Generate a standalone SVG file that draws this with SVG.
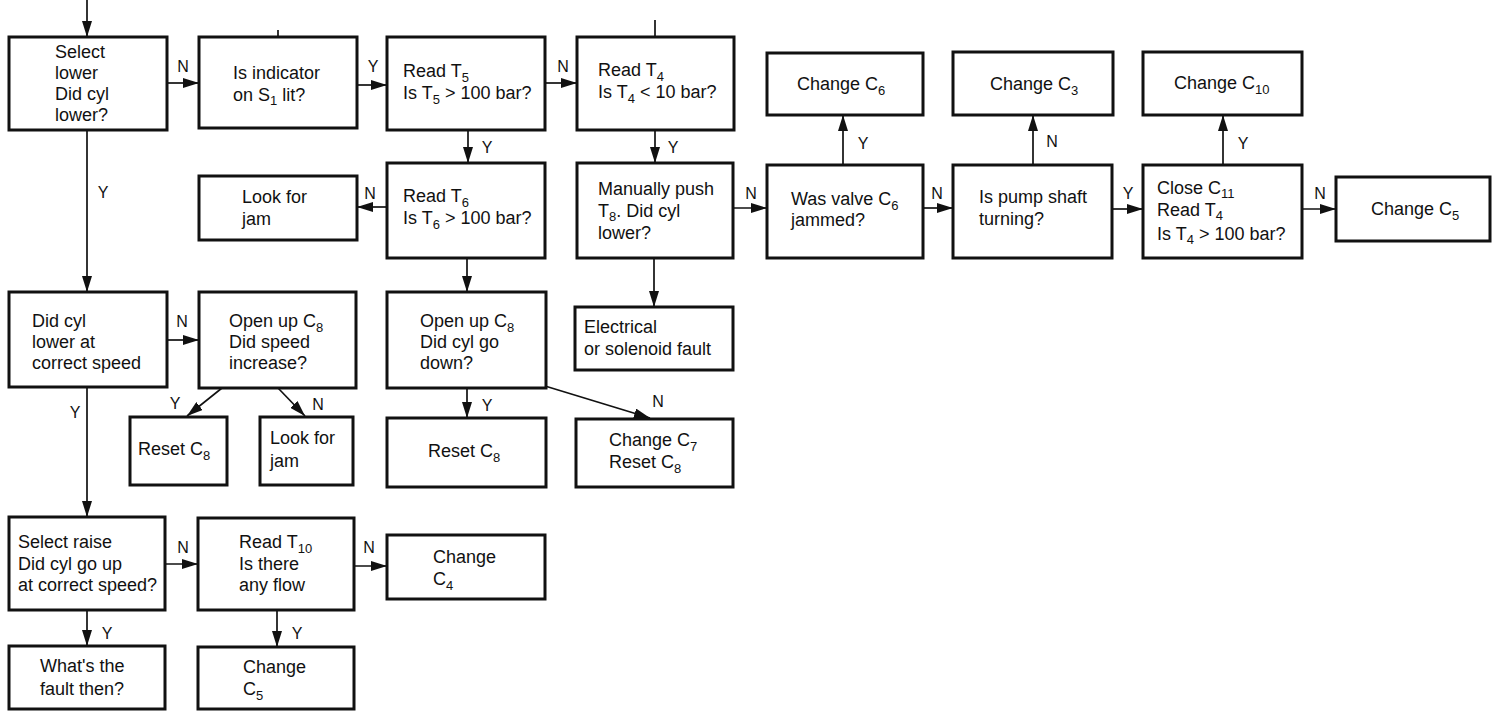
<svg xmlns="http://www.w3.org/2000/svg" width="1492" height="713" viewBox="0 0 1492 713">
<style>
.box{fill:#fff;stroke:#111;stroke-width:3}
.t{font-family:"Liberation Sans",Arial,sans-serif;font-size:18px;fill:#111}
.s{font-size:13px}
.lbl{font-family:"Liberation Sans",Arial,sans-serif;font-size:16px;fill:#111;text-anchor:middle}
.c{stroke:#111;stroke-width:1.7;fill:none}
.a{marker-end:url(#ah)}
</style>
<defs>
<marker id="ah" markerUnits="userSpaceOnUse" markerWidth="16" markerHeight="10" refX="16" refY="5" orient="auto">
<path d="M0,0 L16,5 L0,10 z" fill="#111"/>
</marker>
</defs>
<rect width="1492" height="713" fill="#fff"/>
<g id="connectors">
<line class="c a" x1="87" y1="0" x2="87" y2="37"/>
<line class="c" x1="278" y1="30" x2="278" y2="37"/>
<line class="c" x1="655" y1="20" x2="655" y2="37"/>
<line class="c a" x1="167" y1="83" x2="199" y2="83"/>
<line class="c a" x1="357" y1="85" x2="387" y2="85"/>
<line class="c a" x1="545" y1="83" x2="577" y2="83"/>
<line class="c a" x1="468" y1="130" x2="468" y2="163"/>
<line class="c a" x1="655" y1="130" x2="655" y2="163"/>
<line class="c a" x1="387" y1="207" x2="357" y2="207"/>
<line class="c a" x1="733" y1="208" x2="767" y2="208"/>
<line class="c a" x1="843" y1="165" x2="843" y2="115"/>
<line class="c a" x1="923" y1="208" x2="953" y2="208"/>
<line class="c a" x1="1033" y1="165" x2="1033" y2="115"/>
<line class="c a" x1="1112" y1="209" x2="1143" y2="209"/>
<line class="c a" x1="1223" y1="165" x2="1223" y2="115"/>
<line class="c a" x1="1302" y1="209" x2="1336" y2="209"/>
<line class="c a" x1="87" y1="130" x2="87" y2="292"/>
<line class="c a" x1="467" y1="258" x2="467" y2="292"/>
<line class="c a" x1="654" y1="258" x2="654" y2="307"/>
<line class="c a" x1="167" y1="340" x2="199" y2="340"/>
<line class="c a" x1="87" y1="387" x2="87" y2="517"/>
<line class="c a" x1="222" y1="388" x2="187" y2="416"/>
<line class="c a" x1="278" y1="388" x2="305" y2="416"/>
<line class="c a" x1="467" y1="388" x2="467" y2="418"/>
<line class="c a" x1="545" y1="386" x2="650" y2="418"/>
<line class="c a" x1="165" y1="564" x2="198" y2="564"/>
<line class="c a" x1="354" y1="566" x2="387" y2="566"/>
<line class="c a" x1="87" y1="610" x2="87" y2="646"/>
<line class="c a" x1="277" y1="610" x2="277" y2="647"/>
<text class="lbl" x="183" y="72">N</text>
<text class="lbl" x="373" y="72">Y</text>
<text class="lbl" x="563" y="72">N</text>
<text class="lbl" x="487" y="153">Y</text>
<text class="lbl" x="673" y="153">Y</text>
<text class="lbl" x="370" y="199">N</text>
<text class="lbl" x="751" y="199">N</text>
<text class="lbl" x="863" y="149">Y</text>
<text class="lbl" x="937" y="199">N</text>
<text class="lbl" x="1052" y="147">N</text>
<text class="lbl" x="1128" y="199">Y</text>
<text class="lbl" x="1243" y="149">Y</text>
<text class="lbl" x="1320" y="199">N</text>
<text class="lbl" x="103" y="198">Y</text>
<text class="lbl" x="182" y="327">N</text>
<text class="lbl" x="75" y="418">Y</text>
<text class="lbl" x="175" y="409">Y</text>
<text class="lbl" x="318" y="410">N</text>
<text class="lbl" x="487" y="411">Y</text>
<text class="lbl" x="658" y="407">N</text>
<text class="lbl" x="183" y="553">N</text>
<text class="lbl" x="369" y="553">N</text>
<text class="lbl" x="107" y="639">Y</text>
<text class="lbl" x="297" y="639">Y</text>
</g>
<g id="n-select-lower">
<rect class="box" x="9" y="37" width="158" height="93"/>
<text class="t" x="55" y="58">Select</text>
<text class="t" x="55" y="79">lower</text>
<text class="t" x="55" y="100">Did cyl</text>
<text class="t" x="55" y="121">lower?</text>
</g>
<g id="n-indicator">
<rect class="box" x="199" y="37" width="158" height="91"/>
<text class="t" x="233" y="79">Is indicator</text>
<text class="t" x="233" y="101">on S<tspan class="s" dy="4">1</tspan><tspan dy="-4"> lit?</tspan></text>
</g>
<g id="n-read-t5">
<rect class="box" x="387" y="37" width="158" height="93"/>
<text class="t" x="403" y="77">Read T<tspan class="s" dy="5">5</tspan></text>
<text class="t" x="403" y="99">Is T<tspan class="s" dy="5">5</tspan><tspan dy="-5"> &gt; 100 bar?</tspan></text>
</g>
<g id="n-read-t4">
<rect class="box" x="577" y="37" width="157" height="93"/>
<text class="t" x="598" y="76">Read T<tspan class="s" dy="5">4</tspan></text>
<text class="t" x="598" y="98">Is T<tspan class="s" dy="5">4</tspan><tspan dy="-5"> &lt; 10 bar?</tspan></text>
</g>
<g id="n-change-c6">
<rect class="box" x="767" y="53" width="156" height="62"/>
<text class="t" x="797" y="90">Change C<tspan class="s" dy="5">6</tspan></text>
</g>
<g id="n-change-c3">
<rect class="box" x="953" y="52" width="160" height="63"/>
<text class="t" x="990" y="90">Change C<tspan class="s" dy="5">3</tspan></text>
</g>
<g id="n-change-c10">
<rect class="box" x="1143" y="52" width="159" height="63"/>
<text class="t" x="1174" y="89">Change C<tspan class="s" dy="5">10</tspan></text>
</g>
<g id="n-look-jam-1">
<rect class="box" x="199" y="176" width="158" height="64"/>
<text class="t" x="242" y="203">Look for</text>
<text class="t" x="242" y="225">jam</text>
</g>
<g id="n-read-t6">
<rect class="box" x="387" y="163" width="158" height="95"/>
<text class="t" x="403" y="202">Read T<tspan class="s" dy="5">6</tspan></text>
<text class="t" x="403" y="224">Is T<tspan class="s" dy="5">6</tspan><tspan dy="-5"> &gt; 100 bar?</tspan></text>
</g>
<g id="n-manual-push">
<rect class="box" x="577" y="163" width="156" height="95"/>
<text class="t" x="598" y="195">Manually push</text>
<text class="t" x="598" y="217">T<tspan class="s" dy="4">8</tspan><tspan dy="-4">.  Did cyl</tspan></text>
<text class="t" x="598" y="239">lower?</text>
</g>
<g id="n-was-valve">
<rect class="box" x="767" y="165" width="156" height="93"/>
<text class="t" x="791" y="205">Was valve C<tspan class="s" dy="5">6</tspan></text>
<text class="t" x="791" y="226">jammed?</text>
</g>
<g id="n-pump-shaft">
<rect class="box" x="953" y="165" width="159" height="93"/>
<text class="t" x="979" y="203">Is pump shaft</text>
<text class="t" x="979" y="225">turning?</text>
</g>
<g id="n-close-c11">
<rect class="box" x="1143" y="165" width="159" height="93"/>
<text class="t" x="1157" y="194">Close C<tspan class="s" dy="4">11</tspan></text>
<text class="t" x="1157" y="216">Read T<tspan class="s" dy="4">4</tspan></text>
<text class="t" x="1157" y="240">Is T<tspan class="s" dy="4">4</tspan><tspan dy="-4"> &gt; 100 bar?</tspan></text>
</g>
<g id="n-change-c5-right">
<rect class="box" x="1336" y="177" width="154" height="64"/>
<text class="t" x="1371" y="215">Change C<tspan class="s" dy="5">5</tspan></text>
</g>
<g id="n-did-cyl-speed">
<rect class="box" x="9" y="292" width="158" height="95"/>
<text class="t" x="32" y="327">Did cyl</text>
<text class="t" x="32" y="348">lower at</text>
<text class="t" x="32" y="369">correct speed</text>
</g>
<g id="n-open-c8-speed">
<rect class="box" x="199" y="292" width="157" height="96"/>
<text class="t" x="229" y="327">Open up C<tspan class="s" dy="5">8</tspan></text>
<text class="t" x="229" y="348">Did speed</text>
<text class="t" x="229" y="369">increase?</text>
</g>
<g id="n-open-c8-down">
<rect class="box" x="387" y="292" width="159" height="96"/>
<text class="t" x="420" y="327">Open up C<tspan class="s" dy="5">8</tspan></text>
<text class="t" x="420" y="348">Did cyl go</text>
<text class="t" x="420" y="369">down?</text>
</g>
<g id="n-electrical">
<rect class="box" x="575" y="307" width="158" height="63"/>
<text class="t" x="584" y="333">Electrical</text>
<text class="t" x="584" y="355">or solenoid fault</text>
</g>
<g id="n-reset-c8-a">
<rect class="box" x="130" y="417" width="97" height="68"/>
<text class="t" x="138" y="455">Reset C<tspan class="s" dy="5">8</tspan></text>
</g>
<g id="n-look-jam-2">
<rect class="box" x="260" y="417" width="93" height="68"/>
<text class="t" x="270" y="444">Look for</text>
<text class="t" x="270" y="467">jam</text>
</g>
<g id="n-reset-c8-b">
<rect class="box" x="387" y="418" width="159" height="69"/>
<text class="t" x="428" y="457">Reset C<tspan class="s" dy="5">8</tspan></text>
</g>
<g id="n-change-c7">
<rect class="box" x="576" y="419" width="157" height="68"/>
<text class="t" x="609" y="446">Change C<tspan class="s" dy="5">7</tspan></text>
<text class="t" x="609" y="468">Reset C<tspan class="s" dy="5">8</tspan></text>
</g>
<g id="n-select-raise">
<rect class="box" x="9" y="517" width="156" height="93"/>
<text class="t" x="18" y="548">Select raise</text>
<text class="t" x="18" y="570">Did cyl go up</text>
<text class="t" x="18" y="591">at correct speed?</text>
</g>
<g id="n-read-t10">
<rect class="box" x="198" y="518" width="156" height="92"/>
<text class="t" x="239" y="548">Read T<tspan class="s" dy="5">10</tspan></text>
<text class="t" x="239" y="570">Is there</text>
<text class="t" x="239" y="591">any flow</text>
</g>
<g id="n-change-c4">
<rect class="box" x="387" y="535" width="158" height="64"/>
<text class="t" x="433" y="563">Change</text>
<text class="t" x="433" y="585">C<tspan class="s" dy="5">4</tspan></text>
</g>
<g id="n-whats-fault">
<rect class="box" x="9" y="646" width="156" height="63"/>
<text class="t" x="40" y="672">What's the</text>
<text class="t" x="40" y="695">fault then?</text>
</g>
<g id="n-change-c5-bottom">
<rect class="box" x="198" y="647" width="156" height="62"/>
<text class="t" x="243" y="673">Change</text>
<text class="t" x="243" y="695">C<tspan class="s" dy="5">5</tspan></text>
</g>
</svg>
